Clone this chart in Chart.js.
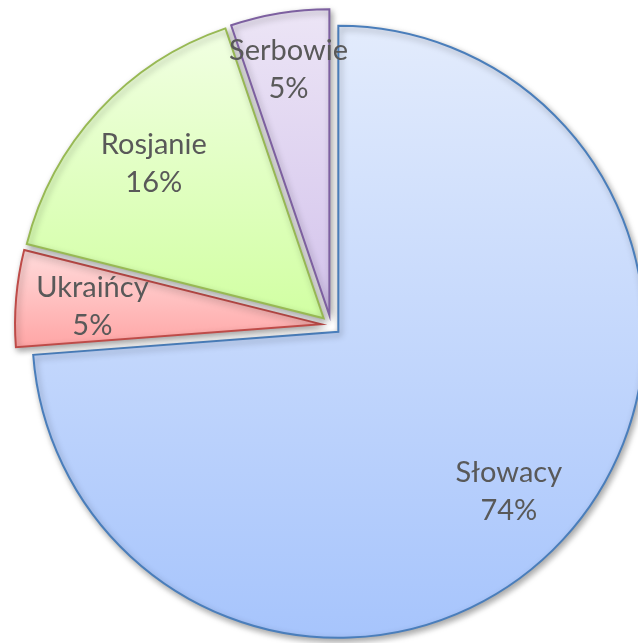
<!DOCTYPE html>
<html>
<head>
<meta charset="utf-8">
<script src="https://cdn.jsdelivr.net/npm/chart.js@4/dist/chart.umd.min.js"></script>
<style>
  html, body { margin: 0; padding: 0; background: #fff; overflow: hidden; }
</style>
</head>
<body>
<canvas id="pieCanvas" width="638" height="643"></canvas>
<script>
var categories = ["Słowacy", "Ukraińcy", "Rosjanie", "Serbowie"];
var shares = [73.8, 5.1, 15.9, 5.2];

var topColors = ["#e2ebfc", "#ffdcdc", "#f2ffe4", "#ede6f6"];
var bottomColors = ["#a6c4fc", "#ffa6a6", "#d2ffa4", "#d4c4ec"];
var borderColors = ["#4a7ebb", "#be4b48", "#98b954", "#7d60a0"];
var labelRadius = [0.76, 0.75, 0.755, 0.82];

var RADIUS = 306;
var EXPLODE = 10;

// gradient runs over the height of each slice only
function sliceGradient(chart, index) {
    var area = chart.chartArea;
    if (!area) return topColors[index];
    var cy = (area.top + area.bottom) / 2;
    var total = shares.reduce(function (a, b) { return a + b; }, 0);
    var before = 0;
    for (var k = 0; k < index; k++) before += shares[k];
    var a0 = -Math.PI / 2 + before / total * Math.PI * 2;
    var a1 = a0 + shares[index] / total * Math.PI * 2;
    var mid = (a0 + a1) / 2;
    var ys = [0, Math.sin(a0) * RADIUS, Math.sin(a1) * RADIUS];
    [Math.PI / 2, Math.PI * 1.5, -Math.PI / 2].forEach(function (a) {
        if (a >= a0 && a <= a1) ys.push(Math.sin(a) * RADIUS);
    });
    var dy = cy + Math.sin(mid) * EXPLODE;
    var top = Math.min.apply(null, ys) + dy;
    var bottom = Math.max.apply(null, ys) + dy;
    var g = chart.ctx.createLinearGradient(0, top, 0, bottom);
    g.addColorStop(0, topColors[index]);
    g.addColorStop(1, bottomColors[index]);
    return g;
}

var explodePlugin = {
    id: "explode",
    beforeDatasetsDraw: function (chart) {
        var ctx = chart.ctx;
        var meta = chart.getDatasetMeta(0);
        meta.data.forEach(function (arc) {
            var mid = (arc.startAngle + arc.endAngle) / 2;
            ctx.save();
            ctx.translate(Math.cos(mid) * EXPLODE, Math.sin(mid) * EXPLODE);
            ctx.shadowColor = "rgba(0,0,0,0.35)";
            ctx.shadowBlur = 6;
            ctx.shadowOffsetX = 2;
            ctx.shadowOffsetY = 3;
            arc.draw(ctx);
            ctx.restore();
        });
        return false;
    },
    afterDraw: function (chart) {
        var ctx = chart.ctx;
        var meta = chart.getDatasetMeta(0);
        var total = shares.reduce(function (a, b) { return a + b; }, 0);
        ctx.save();
        ctx.fillStyle = "#595959";
        ctx.font = "29px Lato";
        ctx.textAlign = "center";
        ctx.textBaseline = "middle";
        meta.data.forEach(function (arc, i) {
            var mid = (arc.startAngle + arc.endAngle) / 2;
            var r = arc.outerRadius * labelRadius[i] + EXPLODE;
            var x = arc.x + Math.cos(mid) * r;
            var y = arc.y + Math.sin(mid) * r + 2;
            ctx.fillText(categories[i], x, y - 19);
            ctx.fillText(Math.round(shares[i] / total * 100) + "%", x, y + 19);
        });
        ctx.restore();
    }
};

new Chart(document.getElementById("pieCanvas"), {
    type: "pie",
    data: {
        labels: categories,
        datasets: [{
            data: shares,
            radius: RADIUS,
            backgroundColor: function (c) { return sliceGradient(c.chart, c.dataIndex); },
            borderColor: borderColors,
            borderWidth: 2,
            borderJoinStyle: "miter"
        }]
    },
    options: {
        responsive: false,
        animation: false,
        layout: { padding: { left: 24, right: 0, top: 7, bottom: 0 } },
        plugins: {
            legend: { display: false },
            tooltip: { enabled: false }
        }
    },
    plugins: [explodePlugin]
});
</script>
</body>
</html>
